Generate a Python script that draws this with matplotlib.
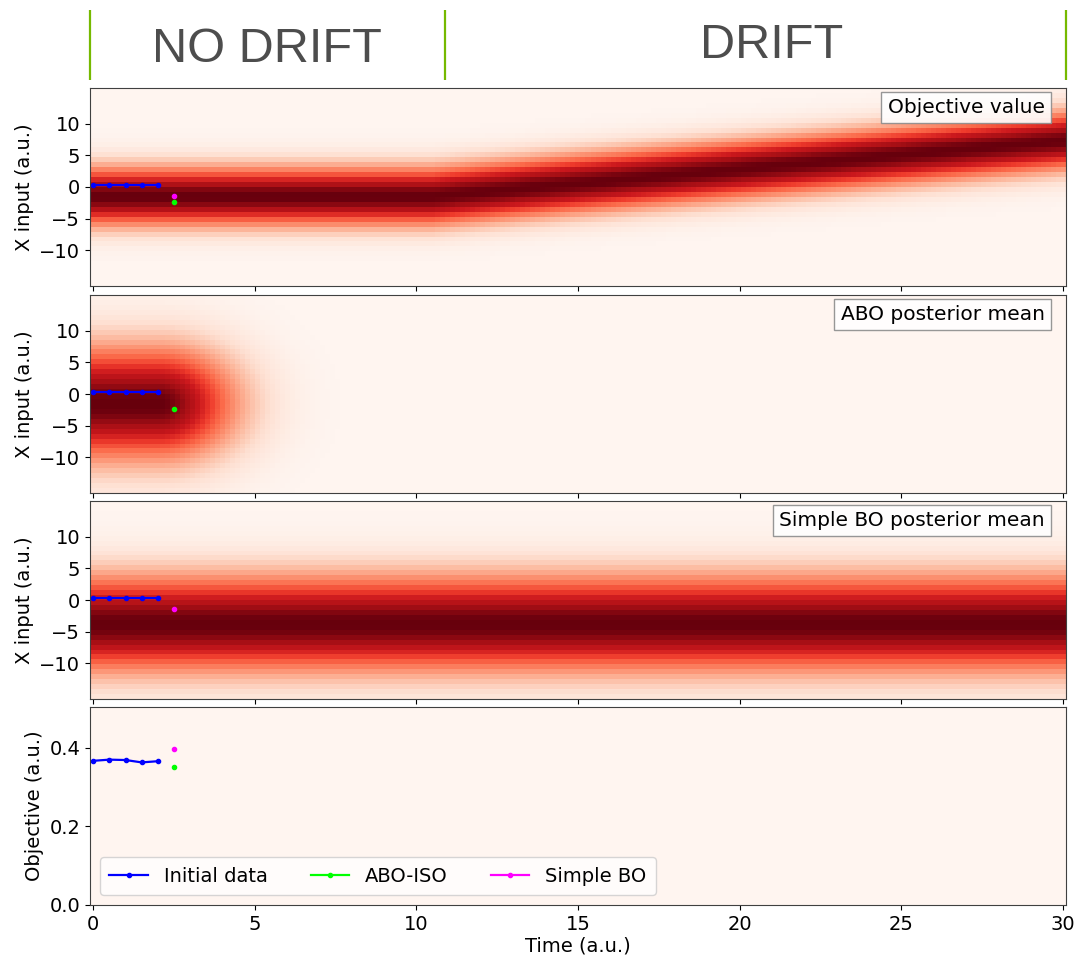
import numpy as np
import matplotlib.pyplot as plt

# measured points
init_t = [0.0, 0.5, 1.0, 1.5, 2.0]
init_x = [0.3, 0.3, 0.3, 0.3, 0.3]
init_obj = [0.367, 0.370, 0.369, 0.363, 0.366]
abo_t, abo_x, abo_obj = [2.5], [-2.4], [0.351]
sbo_t, sbo_x, sbo_obj = [2.5], [-1.4], [0.398]

# objective ridge: optimum position read at a few times (flat, then drifting)
ridge_t = [0.0, 10.5, 30.0]
ridge_c = [-1.5, -1.5, 7.3]
ridge_w = 3.2

# ABO posterior mean blob: centre, x width, plateau end, time width
abo_c, abo_wx, abo_t0, abo_wt = -1.5, 6.3, 2.0, 1.7
# simple BO posterior mean (constant in time)
sbo_c, sbo_w = -3.8, 5.3

phase_edges = [-0.1, 10.9, 30.1]
phase_names = ["NO DRIFT", "DRIFT"]
panel_titles = ["Objective value", "ABO posterior mean", "Simple BO posterior mean"]

t_lim = (-0.1, 30.1)
x_lim = (-15.7, 15.7)
n_t, n_x = 195, 40

# grid of cell centres
t_c = t_lim[0] + (np.arange(n_t) + 0.5) * (t_lim[1] - t_lim[0]) / n_t
x_c = x_lim[0] + (np.arange(n_x) + 0.5) * (x_lim[1] - x_lim[0]) / n_x
T, X = np.meshgrid(t_c, x_c)

centre = np.interp(T, ridge_t, ridge_c)
f_obj = np.exp(-(X - centre) ** 2 / (2 * ridge_w ** 2))
g_t = np.where(T < abo_t0, 1.0, np.exp(-(T - abo_t0) ** 2 / (2 * abo_wt ** 2)))
f_abo = np.exp(-(X - abo_c) ** 2 / (2 * abo_wx ** 2)) * g_t
f_sbo = np.exp(-(X - sbo_c) ** 2 / (2 * sbo_w ** 2)) + 0 * T
fields = [f_obj, f_abo, f_sbo]

W, H = 1076, 958
fig = plt.figure(figsize=(W / 100, H / 100), dpi=100)
plt.rcParams['font.size'] = 14

left, right = 90, 1066
tops = [88, 295, 501, 707]
ph = 198

def rect(top, h):
    return [left / W, (H - top - h) / H, (right - left) / W, h / H]

axes = []
for i, top in enumerate(tops):
    ax = fig.add_axes(rect(top, ph), sharex=axes[0] if axes else None)
    axes.append(ax)

for ax, field, title in zip(axes[:3], fields, panel_titles):
    ax.imshow(field, origin='lower', extent=(*t_lim, *x_lim), aspect='auto',
              cmap='Reds', vmin=0, vmax=1, interpolation='nearest')
    ax.set_ylim(*x_lim)
    ax.set_yticks([-10, -5, 0, 5, 10])
    ax.set_ylabel("X input (a.u.)")
    ax.tick_params(labelbottom=False)
    ax.text(0.978, 0.948, title, transform=ax.transAxes, ha='right', va='top',
            fontsize=14.5,
            bbox=dict(boxstyle='square,pad=0.3', fc='white', ec='0.55', alpha=0.9))

# points on the heatmaps
for ax, show_abo, show_sbo in [(axes[0], True, True), (axes[1], True, False), (axes[2], False, True)]:
    ax.plot(init_t, init_x, '.-', color='blue', ms=6, lw=1.6)
    if show_sbo:
        ax.plot(sbo_t, sbo_x, '.', color='magenta', ms=6)
    if show_abo:
        ax.plot(abo_t, abo_x, '.', color='lime', ms=6)

ax = axes[3]
ax.set_facecolor(plt.get_cmap('Reds')(0.0))
ax.plot(init_t, init_obj, '.-', color='blue', ms=6, lw=1.6, label="Initial data")
ax.plot(abo_t, abo_obj, '.-', color='lime', ms=6, lw=1.6, label="ABO-ISO")
ax.plot(sbo_t, sbo_obj, '.-', color='magenta', ms=6, lw=1.6, label="Simple BO")
ax.set_ylim(0, 0.504)
ax.set_yticks([0.0, 0.2, 0.4])
ax.set_ylabel("Objective (a.u.)")
ax.set_xlabel("Time (a.u.)", labelpad=2)
ax.set_xlim(*t_lim)
ax.set_xticks([0, 5, 10, 15, 20, 25, 30])
ax.legend(loc='lower left', ncol=3, columnspacing=2.2, borderpad=0.5)

for a in axes:
    for s in a.spines.values():
        s.set_color('0.25')

# drift / no drift banner
ban = fig.add_axes(rect(0, 88))
ban.set_xlim(*t_lim)
ban.set_ylim(88, 0)
ban.axis('off')
ban.vlines(phase_edges, 10, 80, color='#76b900', lw=1.6, clip_on=False)
ban.text(5.38, 49, phase_names[0], ha='center', va='center', fontsize=35,
         color='#4d4d4d', family='Liberation Sans')
ban.text(21.0, 45, phase_names[1], ha='center', va='center', fontsize=35,
         color='#4d4d4d', family='Liberation Sans')

fig.savefig("out.png", dpi=100)
